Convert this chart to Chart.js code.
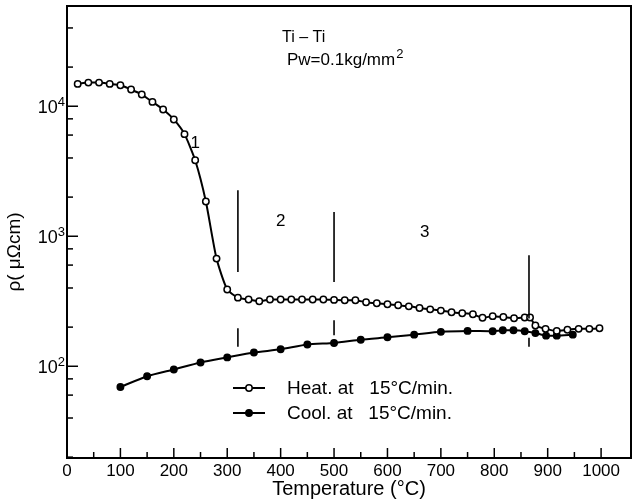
<!DOCTYPE html>
<html><head><meta charset="utf-8">
<script src="https://cdn.jsdelivr.net/npm/chart.js@4"></script>
<style>html,body{margin:0;padding:0;background:#fff;}#wrap{width:640px;height:502px;}</style>
</head><body><div id="wrap"><canvas id="c" width="640" height="502"></canvas></div>
<script>
// ---- data ----
const heatT = [20,40,60,80,100,120,140,160,180,200,220,240,260,280,300,320,340,360,380,400,420,440,460,480,500,520,540,560,580,600,620,640,660,680,700,720,740,760,778,797,817,837,857,867,877,896,917,937,958,978,997];
const heatRho = [14850,15200,15200,14850,14500,13440,12300,10800,9430,7910,6100,3840,1850,673,389,337,326,316,326,326,326,326,326,326,324,322,322,311,305,300,295,289,281,274,268,260,256,251,236,243,239,234,237,237,206,194,187,191,194,194,196];
const coolT = [100,150,200,250,300,350,400,450,500,550,600,650,700,750,797,816,836,857,877,897,917,947];
const coolRho = [69.3,83.8,94.5,107,117,127.5,135,147,151,160,167,175,184,187,186,189,189,186,180,172,172,175];
const xTickValues = [0,50,100,150,200,250,300,350,400,450,500,550,600,650,700,750,800,850,900,950,1000];
const yTickValues = [20,40,60,80,100,200,400,600,800,1000,2000,4000,6000,8000,10000,20000,40000];
const yTickExp = {100:'2',1000:'3',10000:'4'};
const markerT = [320,500,865];
const markerLong = [[531,2260],[445,1538],[233,714]];
const markerShort = [[141,196],[173,226],[141,166]];
const regionLabels = ['1','2','3'];
const regionT = [240,400,670];
const regionRho = [5190,1312,1074];
const legendLabels = ['Heat. at   15°C/min.','Cool. at   15°C/min.'];
const FONT = "'Liberation Sans', Arial, sans-serif";

const overlay = {
  id:'overlay',
  afterDraw(chart){
    const ctx = chart.ctx, ca = chart.chartArea, xs = chart.scales.x, ys = chart.scales.y;
    ctx.save();
    ctx.strokeStyle='#000'; ctx.fillStyle='#000';
    // frame
    ctx.lineWidth=2;
    ctx.strokeRect(ca.left, ca.top, ca.right-ca.left, ca.bottom-ca.top);
    // inward ticks
    ctx.lineWidth=1.5;
    xTickValues.forEach(v=>{
      const px = xs.getPixelForValue(v); const len = (v%100===0)?10:6;
      ctx.beginPath(); ctx.moveTo(px, ca.bottom); ctx.lineTo(px, ca.bottom-len); ctx.stroke();
    });
    yTickValues.forEach(v=>{
      const py = ys.getPixelForValue(v); const len = yTickExp[v]?11:6;
      ctx.beginPath(); ctx.moveTo(ca.left, py); ctx.lineTo(ca.left+len, py); ctx.stroke();
    });
    // y tick labels (10 with superscript exponent)
    ctx.textBaseline='alphabetic';
    yTickValues.forEach(v=>{
      if(!yTickExp[v]) return;
      const py = ys.getPixelForValue(v);
      ctx.font = '13px '+FONT; ctx.textAlign='left';
      const ew = ctx.measureText(yTickExp[v]).width;
      const ex = ca.left - 2 - ew;
      ctx.fillText(yTickExp[v], ex, py);
      ctx.font = '18px '+FONT; ctx.textAlign='right';
      ctx.fillText('10', ex, py+7);
    });
    // region markers
    ctx.lineWidth=1.6;
    markerT.forEach((t,i)=>{
      const px = xs.getPixelForValue(t);
      [markerLong[i], markerShort[i]].forEach(seg=>{
        ctx.beginPath(); ctx.moveTo(px, ys.getPixelForValue(seg[0])); ctx.lineTo(px, ys.getPixelForValue(seg[1])); ctx.stroke();
      });
    });
    // region labels
    ctx.font = '17px '+FONT; ctx.textAlign='center'; ctx.textBaseline='middle';
    regionLabels.forEach((s,i)=>ctx.fillText(s, xs.getPixelForValue(regionT[i]), ys.getPixelForValue(regionRho[i])));
    // header text
    ctx.textAlign='left'; ctx.textBaseline='alphabetic';
    ctx.font = '16px '+FONT;
    ctx.fillText('Ti – Ti', 282, 42);
    ctx.font = '17px '+FONT;
    ctx.fillText('Pw=0.1kg/mm', 287, 65);
    const w = ctx.measureText('Pw=0.1kg/mm').width;
    ctx.font = '13px '+FONT;
    ctx.fillText('2', 287+w+1, 58);
    // legend
    const lx0 = ca.left+166, lx1 = ca.left+198, tx = ca.left+220;
    const lys = [388, 413];
    ctx.font = '19px '+FONT; ctx.textBaseline='middle';
    lys.forEach((ly,i)=>{
      ctx.lineWidth=2;
      ctx.beginPath(); ctx.moveTo(lx0, ly); ctx.lineTo(lx1, ly); ctx.stroke();
      ctx.beginPath(); ctx.arc((lx0+lx1)/2, ly, 3.2, 0, Math.PI*2);
      ctx.fillStyle = i===0 ? '#fff' : '#000'; ctx.fill();
      ctx.lineWidth=1.5; ctx.stroke();
      ctx.fillStyle='#000';
      ctx.fillText(legendLabels[i], tx, ly+1);
    });
    // y title
    ctx.save();
    ctx.translate(15, 252); ctx.rotate(-Math.PI/2);
    ctx.font = '19px '+FONT; ctx.textAlign='center'; ctx.textBaseline='middle';
    ctx.fillText('ρ( μΩcm)', 0, 0);
    ctx.restore();
    ctx.restore();
  }
};

new Chart(document.getElementById('c'), {
  type:'line',
  data:{
    datasets:[
      {label:legendLabels[0], data:heatT.map((t,i)=>({x:t,y:heatRho[i]})), borderColor:'#000', borderWidth:2,
       pointRadius:3.2, pointBackgroundColor:'#fff', pointBorderColor:'#000', pointBorderWidth:1.5, tension:0.2},
      {label:legendLabels[1], data:coolT.map((t,i)=>({x:t,y:coolRho[i]})), borderColor:'#000', borderWidth:2,
       pointRadius:3.2, pointBackgroundColor:'#000', pointBorderColor:'#000', pointBorderWidth:1.5, tension:0.2}
    ]
  },
  options:{
    responsive:false, animation:false, devicePixelRatio:1,
    layout:{padding:{top:6,right:9,left:0,bottom:0}},
    plugins:{legend:{display:false}, tooltip:{enabled:false}},
    scales:{
      x:{type:'linear', min:0, max:1056,
        afterBuildTicks:s=>{s.ticks = xTickValues.map(v=>({value:v}));},
        afterFit:s=>{s.height=44; s.paddingLeft=0; s.paddingRight=0;},
        grid:{display:false, drawTicks:false}, border:{display:false},
        ticks:{autoSkip:false, maxRotation:0, padding:3, color:'#000', font:{family:FONT,size:17},
          callback:v=> (v%100===0)? String(v) : ''},
        title:{display:true, text:'Temperature (°C)', color:'#000', font:{family:FONT,size:20}, padding:{top:0,bottom:1}}
      },
      y:{type:'logarithmic', min:19.7, max:59000,
        afterBuildTicks:s=>{s.ticks = yTickValues.map(v=>({value:v}));},
        afterFit:s=>{s.width=67; s.paddingTop=0; s.paddingBottom=0;},
        grid:{display:false, drawTicks:false}, border:{display:false},
        ticks:{display:false}
      }
    }
  },
  plugins:[overlay]
});
</script></body></html>
